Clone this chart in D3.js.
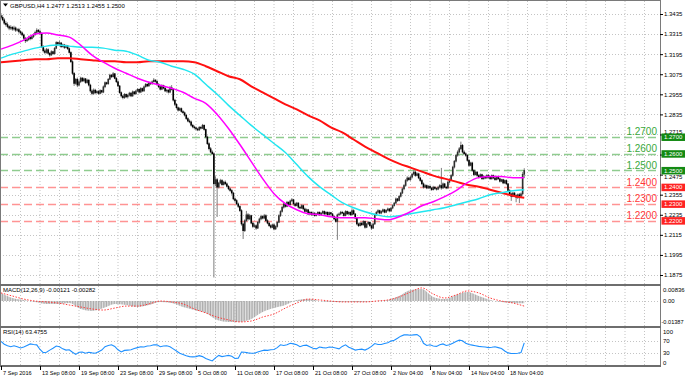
<!DOCTYPE html>
<html>
<head>
<meta charset="utf-8">
<script src="https://cdn.jsdelivr.net/npm/d3@7"></script>
<style>
  body { margin: 0; background: #fff; }
  svg { display: block; font-family: "Liberation Sans", Arial, sans-serif; }
</style>
</head>
<body>
<svg id="chart" width="685" height="377"></svg>
<script>
// GBPUSD H4 candles, one entry per bar (open = previous close)
const firstOpen = 1.3425;
const closes = [
  1.3415,1.3400,1.3380,1.3372,1.3360,1.3350, 1.3356,1.3345,1.3352,1.3338,1.3342,1.3330,
  1.3322,1.3310,1.3290,1.3275,1.3282,1.3295, 1.3288,1.3300,1.3312,1.3325,1.3338,1.3330,
  1.3320,1.3240,1.3215,1.3205,1.3222,1.3200, 1.3190,1.3210,1.3198,1.3230,1.3265,1.3255,
  1.3262,1.3240,1.3250,1.3235,1.3245,1.3228, 1.3205,1.3150,1.3080,1.3020,1.3045,1.3010,
  1.3030,1.3052,1.3035,1.3048,1.3025,1.3040, 1.3010,1.2975,1.2960,1.2980,1.2965,1.2972,
  1.2960,1.2978,1.2968,1.3000,1.3025,1.3018, 1.3045,1.3070,1.3060,1.3078,1.3050,1.3030,
  1.3005,1.2965,1.2945,1.2935,1.2955,1.2940, 1.2950,1.2962,1.2945,1.2970,1.2958,1.2975,
  1.2985,1.2968,1.2990,1.2975,1.3000,1.3015, 1.3005,1.3025,1.3018,1.3030,1.3040,1.3032,
  1.3015,1.3000,1.2985,1.3008,1.2992,1.2975, 1.2980,1.2968,1.2995,1.2985,1.2920,1.2895,
  1.2875,1.2860,1.2870,1.2852,1.2845,1.2830, 1.2810,1.2795,1.2790,1.2770,1.2760,1.2755,
  1.2748,1.2742,1.2758,1.2752,1.2770,1.2745, 1.2700,1.2660,1.2630,1.2610,1.2600,1.2420,
  1.2445,1.2400,1.2425,1.2440,1.2415,1.2430, 1.2420,1.2405,1.2390,1.2380,1.2365,1.2330,
  1.2320,1.2300,1.2285,1.2260,1.2180,1.2140, 1.2200,1.2235,1.2210,1.2230,1.2185,1.2165,
  1.2170,1.2155,1.2190,1.2210,1.2225,1.2215, 1.2230,1.2200,1.2185,1.2170,1.2160,1.2175,
  1.2150,1.2165,1.2190,1.2230,1.2255,1.2280, 1.2300,1.2285,1.2310,1.2295,1.2318,1.2325,
  1.2300,1.2290,1.2305,1.2280,1.2275,1.2290, 1.2270,1.2255,1.2265,1.2240,1.2250,1.2235,
  1.2245,1.2230,1.2240,1.2250,1.2235,1.2245, 1.2255,1.2240,1.2250,1.2235,1.2248,1.2240,
  1.2225,1.2210,1.2195,1.2235,1.2240,1.2250, 1.2245,1.2230,1.2255,1.2240,1.2250,1.2235,
  1.2260,1.2240,1.2215,1.2180,1.2170,1.2185, 1.2175,1.2195,1.2160,1.2180,1.2190,1.2170,
  1.2155,1.2180,1.2235,1.2250,1.2260,1.2245, 1.2255,1.2265,1.2250,1.2262,1.2270,1.2258,
  1.2275,1.2290,1.2305,1.2330,1.2320,1.2345, 1.2365,1.2390,1.2410,1.2440,1.2455,1.2445,
  1.2460,1.2478,1.2490,1.2470,1.2480,1.2455, 1.2440,1.2420,1.2400,1.2410,1.2395,1.2405,
  1.2395,1.2385,1.2400,1.2392,1.2388,1.2400, 1.2410,1.2395,1.2420,1.2400,1.2395,1.2430,
  1.2445,1.2470,1.2520,1.2555,1.2590,1.2610, 1.2630,1.2650,1.2610,1.2600,1.2590,1.2560,
  1.2530,1.2545,1.2500,1.2475,1.2490,1.2470, 1.2460,1.2475,1.2450,1.2465,1.2455,1.2470,
  1.2460,1.2450,1.2470,1.2455,1.2445,1.2460, 1.2450,1.2435,1.2445,1.2425,1.2440,1.2420,
  1.2380,1.2360,1.2345,1.2365,1.2350,1.2340, 1.2355,1.2345,1.2360,1.2477,1.2500
];
const highs = [
  1.3440,1.3428,1.3410,1.3392,1.3385,1.3368, 1.3368,1.3362,1.3365,1.3360,1.3350,1.3352,
  1.3338,1.3330,1.3318,1.3298,1.3290,1.3305, 1.3302,1.3310,1.3320,1.3335,1.3350,1.3345,
  1.3342,1.3325,1.3248,1.3228,1.3232,1.3230, 1.3208,1.3218,1.3215,1.3238,1.3272,1.3270,
  1.3275,1.3268,1.3258,1.3256,1.3252,1.3250, 1.3235,1.3212,1.3158,1.3088,1.3052,1.3055,
  1.3040,1.3060,1.3058,1.3055,1.3052,1.3048, 1.3045,1.3018,1.2985,1.2990,1.2988,1.2980,
  1.2980,1.2985,1.2982,1.3008,1.3032,1.3030, 1.3052,1.3078,1.3075,1.3088,1.3082,1.3058,
  1.3038,1.3010,1.2972,1.2952,1.2962,1.2960, 1.2958,1.2970,1.2968,1.2978,1.2975,1.2982,
  1.2992,1.2990,1.2998,1.2995,1.3008,1.3022, 1.3020,1.3032,1.3030,1.3038,1.3052,1.3045,
  1.3040,1.3022,1.3008,1.3015,1.3012,1.2998, 1.2988,1.2985,1.3005,1.3010,1.2990,1.2928,
  1.2902,1.2882,1.2878,1.2876,1.2860,1.2852, 1.2838,1.2818,1.2805,1.2798,1.2778,1.2768,
  1.2762,1.2755,1.2765,1.2765,1.2778,1.2775, 1.2750,1.2708,1.2668,1.2640,1.2620,1.2608,
  1.2465,1.2455,1.2432,1.2450,1.2448,1.2438, 1.2440,1.2428,1.2412,1.2398,1.2388,1.2372,
  1.2338,1.2328,1.2308,1.2292,1.2268,1.2188, 1.2208,1.2258,1.2245,1.2240,1.2235,1.2192,
  1.2180,1.2178,1.2198,1.2218,1.2235,1.2232, 1.2240,1.2238,1.2208,1.2192,1.2178,1.2182,
  1.2182,1.2172,1.2198,1.2238,1.2262,1.2288, 1.2308,1.2305,1.2318,1.2315,1.2325,1.2335,
  1.2330,1.2308,1.2312,1.2310,1.2288,1.2298, 1.2295,1.2278,1.2272,1.2270,1.2258,1.2255,
  1.2252,1.2250,1.2246,1.2256,1.2255,1.2252, 1.2262,1.2260,1.2256,1.2255,1.2254,1.2252,
  1.2246,1.2232,1.2215,1.2242,1.2248,1.2258, 1.2258,1.2252,1.2262,1.2260,1.2256,1.2255,
  1.2272,1.2268,1.2245,1.2220,1.2188,1.2192, 1.2192,1.2202,1.2200,1.2186,1.2198,1.2196,
  1.2178,1.2188,1.2242,1.2258,1.2268,1.2265, 1.2262,1.2272,1.2270,1.2268,1.2278,1.2275,
  1.2282,1.2298,1.2312,1.2338,1.2335,1.2352, 1.2372,1.2398,1.2418,1.2448,1.2465,1.2462,
  1.2468,1.2486,1.2505,1.2498,1.2488,1.2486, 1.2462,1.2448,1.2428,1.2418,1.2416,1.2412,
  1.2412,1.2402,1.2408,1.2406,1.2398,1.2408, 1.2418,1.2515,1.2428,1.2425,1.2408,1.2438,
  1.2452,1.2478,1.2528,1.2562,1.2598,1.2620, 1.2640,1.2672,1.2658,1.2620,1.2608,1.2598,
  1.2568,1.2552,1.2552,1.2508,1.2498,1.2496, 1.2478,1.2482,1.2480,1.2472,1.2470,1.2478,
  1.2478,1.2466,1.2476,1.2475,1.2460,1.2468, 1.2466,1.2456,1.2450,1.2450,1.2446,1.2446,
  1.2425,1.2388,1.2368,1.2372,1.2370,1.2358, 1.2362,1.2365,1.2368,1.2490,1.2513
];
const lows = [
  1.3405,1.3392,1.3370,1.3360,1.3350,1.3338, 1.3340,1.3335,1.3336,1.3328,1.3330,1.3318,
  1.3312,1.3302,1.3280,1.3262,1.3268,1.3275, 1.3278,1.3282,1.3292,1.3305,1.3318,1.3322,
  1.3310,1.3232,1.3205,1.3195,1.3198,1.3192, 1.3180,1.3185,1.3190,1.3192,1.3225,1.3245,
  1.3248,1.3232,1.3235,1.3226,1.3230,1.3220, 1.3198,1.3142,1.3070,1.3005,1.3012,1.2998,
  1.3002,1.3022,1.3028,1.3030,1.3018,1.3018, 1.3002,1.2965,1.2950,1.2952,1.2955,1.2958,
  1.2952,1.2955,1.2960,1.2962,1.2992,1.3010, 1.3012,1.3040,1.3052,1.3055,1.3045,1.3022,
  1.2998,1.2958,1.2935,1.2925,1.2928,1.2932, 1.2930,1.2942,1.2938,1.2940,1.2950,1.2952,
  1.2968,1.2960,1.2962,1.2968,1.2970,1.2995, 1.2998,1.3000,1.3010,1.3012,1.3025,1.3025,
  1.3008,1.2992,1.2978,1.2980,1.2985,1.2968, 1.2965,1.2960,1.2962,1.2978,1.2912,1.2885,
  1.2868,1.2852,1.2855,1.2845,1.2838,1.2822, 1.2802,1.2788,1.2782,1.2762,1.2752,1.2745,
  1.2740,1.2735,1.2736,1.2745,1.2748,1.2738, 1.2692,1.2652,1.2620,1.2602,1.2592,1.1860,
  1.2405,1.2222,1.2392,1.2418,1.2408,1.2410, 1.2412,1.2398,1.2382,1.2372,1.2355,1.2322,
  1.2310,1.2292,1.2275,1.2252,1.2170,1.2090, 1.2132,1.2192,1.2200,1.2205,1.2178,1.2155,
  1.2158,1.2145,1.2150,1.2182,1.2202,1.2208, 1.2208,1.2192,1.2178,1.2162,1.2152,1.2155,
  1.2142,1.2145,1.2158,1.2185,1.2222,1.2248, 1.2272,1.2278,1.2280,1.2288,1.2290,1.2310,
  1.2292,1.2282,1.2285,1.2272,1.2268,1.2270, 1.2262,1.2248,1.2250,1.2232,1.2235,1.2228,
  1.2228,1.2224,1.2225,1.2234,1.2228,1.2230, 1.2238,1.2234,1.2235,1.2228,1.2230,1.2232,
  1.2218,1.2202,1.2188,1.2085,1.2228,1.2232, 1.2238,1.2224,1.2226,1.2234,1.2235,1.2228,
  1.2230,1.2235,1.2208,1.2172,1.2162,1.2165, 1.2168,1.2170,1.2152,1.2155,1.2175,1.2162,
  1.2145,1.2150,1.2175,1.2228,1.2242,1.2238, 1.2238,1.2248,1.2244,1.2245,1.2255,1.2250,
  1.2252,1.2268,1.2284,1.2298,1.2312,1.2315, 1.2338,1.2358,1.2382,1.2402,1.2432,1.2438,
  1.2438,1.2452,1.2470,1.2462,1.2465,1.2448, 1.2432,1.2412,1.2392,1.2395,1.2388,1.2390,
  1.2388,1.2378,1.2380,1.2385,1.2380,1.2382, 1.2392,1.2385,1.2390,1.2395,1.2388,1.2390,
  1.2422,1.2438,1.2462,1.2512,1.2548,1.2582, 1.2602,1.2622,1.2602,1.2592,1.2582,1.2552,
  1.2522,1.2525,1.2492,1.2466,1.2470,1.2462, 1.2452,1.2455,1.2444,1.2445,1.2448,1.2450,
  1.2452,1.2444,1.2445,1.2448,1.2438,1.2440, 1.2444,1.2428,1.2430,1.2418,1.2420,1.2412,
  1.2372,1.2352,1.2318,1.2340,1.2345,1.2310, 1.2330,1.2305,1.2338,1.2352,1.2455
];

// moving averages, one reading every 7 bars
const MA_STEP = 7;
const maMagenta = [
  1.3225,1.3249,1.3279,1.3315,1.3321,1.3309,1.3297,1.3249,1.3189,1.3147,1.3111,1.3081,
  1.3051,1.3027,1.3009,1.2991,1.2967,1.2931,1.2901,1.2835,1.2751,1.2655,1.2553,1.2451,
  1.2361,1.2301,1.2265,1.2241,1.2235,1.2223,1.2217,1.2217,1.2217,1.2211,1.2205,1.2223,
  1.2253,1.2289,1.2313,1.2343,1.2379,1.2427,1.2457,1.2463,1.2463,1.2457,1.2457
];
const maCyan = [
  1.3171,1.3195,1.3213,1.3231,1.3243,1.3249,1.3243,1.3237,1.3237,1.3231,1.3219,1.3213,
  1.3189,1.3159,1.3147,1.3123,1.3105,1.3075,1.3015,1.2955,1.2889,1.2829,1.2769,1.2715,
  1.2661,1.2607,1.2535,1.2463,1.2403,1.2355,1.2307,1.2277,1.2253,1.2235,1.2223,1.2229,
  1.2241,1.2253,1.2265,1.2277,1.2295,1.2313,1.2331,1.2355,1.2367,1.2379,1.2385
];
const maRed = [
  1.3147,1.3153,1.3159,1.3165,1.3165,1.3171,1.3171,1.3165,1.3159,1.3153,1.3153,1.3147,
  1.3147,1.3153,1.3153,1.3153,1.3153,1.3147,1.3123,1.3093,1.3063,1.3045,1.3003,1.2967,
  1.2931,1.2895,1.2865,1.2829,1.2799,1.2757,1.2727,1.2685,1.2643,1.2607,1.2571,1.2541,
  1.2517,1.2493,1.2469,1.2451,1.2433,1.2415,1.2403,1.2385,1.2367,1.2349,1.2337
];

// MACD(12,26,9), one reading every 7 bars
const macdMain = [
  0.0045,0.0017,0.0006,-0.0005,-0.0016,-0.0016,-0.0011,-0.0044,-0.0055,-0.0039,-0.0016,-0.0022,
  -0.0033,-0.0022,-0.0005,-0.0011,-0.0033,-0.0050,-0.0066,-0.0105,-0.0116,-0.0116,-0.0100,-0.0061,
  -0.0039,-0.0022,0.0006,0.0011,0.0000,-0.0005,-0.0005,-0.0005,-0.0005,0.0000,0.0006,0.0028,
  0.0061,0.0067,0.0023,0.0011,0.0034,0.0050,0.0028,0.0006,-0.0005,-0.0011,-0.00121
];
const macdSignal = [
  0.0045,0.0028,0.0011,0.0000,-0.0005,-0.0011,-0.0022,-0.0033,-0.0044,-0.0050,-0.0039,-0.0028,
  -0.0028,-0.0016,0.0000,-0.0005,-0.0016,-0.0044,-0.0066,-0.0089,-0.0105,-0.0116,-0.0111,-0.0089,
  -0.0072,-0.0039,-0.0011,0.0011,0.0006,0.0000,-0.0005,-0.0005,-0.0005,0.0000,0.0006,0.0023,
  0.0050,0.0073,0.0039,0.0017,0.0034,0.0056,0.0045,0.0017,0.0000,-0.0011,-0.00282
];

// RSI(14), one reading every 2 bars
const RSI_STEP = 2;
const rsiValues = [
  68,59,54,51,54,51,47,50,55,60,58,57,42,32,33,40,46,53,51,44,40,41,33,26,33,34,30,33,31,30,
  35,40,51,55,57,52,41,34,39,40,41,45,48,51,50,53,54,57,57,51,53,54,51,44,37,30,26,22,19,18,
  19,22,19,13,9,5,15,23,19,21,23,20,13,14,34,33,31,30,30,34,37,40,39,41,42,48,57,55,57,62,
  60,57,51,55,56,51,46,44,50,48,47,50,49,47,44,52,57,49,45,40,42,43,40,45,52,61,58,58,61,64,
  69,72,78,85,89,89,88,89,90,83,62,55,57,53,52,57,60,55,57,62,68,72,70,62,58,56,54,52,51,50,
  48,49,51,48,45,37,31,29,29,30,32,63.4755
];

const priceTicks = [1.3435,1.3315,1.3195,1.3075,1.2955,1.2835,1.2715,1.2595,1.2475,1.2355,1.2235,1.2115,1.1995,1.1875];
const levelsUp = [1.2700, 1.2600, 1.2500];
const levelsDown = [1.2400, 1.2300, 1.2200];
const dateLabels = ["7 Sep 2016","13 Sep 08:00","19 Sep 08:00","23 Sep 08:00","29 Sep 08:00","5 Oct 08:00",
  "11 Oct 08:00","17 Oct 08:00","21 Oct 08:00","27 Oct 08:00","2 Nov 04:00","8 Nov 04:00","14 Nov 04:00","18 Nov 04:00"];
const DATE_STEP = 24;
const macdTicks = [0.00836, 0.00, -0.01387];
const rsiTicks = [100, 70, 30, 0];
const rsiLevels = [70, 30];
const title = "GBPUSD,H4  1.2477 1.2513 1.2455 1.2500";
const macdTitle = "MACD(12,26,9) -0.00121 -0.00282";
const rsiTitle = "RSI(14) 63.4755";

(function() {
  const GRID = "#c4c4c4";
  const FRAME = "#7a7a7a";
  const GREEN_LINE = "#8fcc8f", RED_LINE = "#ff9494";
  const GREEN_TEXT = "#3aa83a", RED_TEXT = "#ff3838";
  const GREEN_BOX = "#138a13", RED_BOX = "#ff2222";

  const svg = d3.select("#chart");
  const axisX = 660;
  const main = { top: 1, bottom: 284 };
  const macdP = { top: 286, bottom: 326 };
  const rsiP = { top: 328, bottom: 365 };

  const n = closes.length;
  const x = d3.scaleLinear().domain([0, n - 1]).range([1, 1 + (n - 1) * 1.625]);
  const y = d3.scaleLinear().domain([1.1875, 1.3435]).range([275, 14]);
  const yMacd = d3.scaleLinear().domain([-0.01387, 0.00836]).range([macdP.bottom, macdP.top]);
  const yRsi = d3.scaleLinear().domain([0, 100]).range([362.5, 331.5]);

  const defs = svg.append("defs");
  [["clipMain", main], ["clipMacd", macdP], ["clipRsi", rsiP]].forEach(([id, p]) => {
    defs.append("clipPath").attr("id", id).append("rect")
      .attr("x", 0).attr("y", p.top).attr("width", axisX).attr("height", p.bottom - p.top);
  });
  const pat = defs.append("pattern").attr("id", "hist")
    .attr("patternUnits", "userSpaceOnUse").attr("width", 1.625).attr("height", 4).attr("x", 0.5);
  pat.append("rect").attr("width", 1.1).attr("height", 4).attr("fill", "#a9a9a9");

  // vertical grid every 12 bars, across all panels
  const gridBars = d3.range(0, 420, 12).filter(b => x(b) < axisX - 2 && b > 0);
  [main, macdP, rsiP].forEach(p => {
    svg.append("g").selectAll("line").data(gridBars).join("line")
      .attr("x1", d => x(d)).attr("x2", d => x(d))
      .attr("y1", p.top).attr("y2", p.bottom)
      .attr("stroke", GRID).attr("stroke-dasharray", "1 2");
  });

  // horizontal grid in price panel
  svg.append("g").selectAll("line").data(priceTicks).join("line")
    .attr("x1", 0).attr("x2", axisX)
    .attr("y1", d => Math.round(y(d)) + 0.5).attr("y2", d => Math.round(y(d)) + 0.5)
    .attr("stroke", GRID).attr("stroke-dasharray", "1 2");

  // MACD zero and RSI levels
  svg.append("line").attr("x1", 0).attr("x2", axisX)
    .attr("y1", Math.round(yMacd(0)) + 0.5).attr("y2", Math.round(yMacd(0)) + 0.5)
    .attr("stroke", GRID).attr("stroke-dasharray", "1 2");
  svg.append("g").selectAll("line").data(rsiLevels).join("line")
    .attr("x1", 0).attr("x2", axisX)
    .attr("y1", d => Math.round(yRsi(d)) + 0.5).attr("y2", d => Math.round(yRsi(d)) + 0.5)
    .attr("stroke", GRID).attr("stroke-dasharray", "1 2");

  // support / resistance levels
  const lv = svg.append("g");
  lv.selectAll("line.up").data(levelsUp).join("line")
    .attr("x1", 0).attr("x2", axisX)
    .attr("y1", d => Math.round(y(d)) + 0.5).attr("y2", d => Math.round(y(d)) + 0.5)
    .attr("stroke", GREEN_LINE).attr("stroke-width", 1.3).attr("stroke-dasharray", "8 4");
  lv.selectAll("line.dn").data(levelsDown).join("line")
    .attr("x1", 0).attr("x2", axisX)
    .attr("y1", d => Math.round(y(d)) + 0.5).attr("y2", d => Math.round(y(d)) + 0.5)
    .attr("stroke", RED_LINE).attr("stroke-width", 1.3).attr("stroke-dasharray", "8 4");

  // candles
  const bars = closes.map((c, i) => ({ i, o: i ? closes[i - 1] : firstOpen, h: highs[i], l: lows[i], c }));
  const cg = svg.append("g").attr("clip-path", "url(#clipMain)");
  cg.selectAll("line").data(bars).join("line")
    .attr("x1", d => x(d.i)).attr("x2", d => x(d.i))
    .attr("y1", d => y(d.h)).attr("y2", d => y(d.l))
    .attr("stroke", "#7e7e7e").attr("stroke-width", 1);
  cg.selectAll("rect").data(bars).join("rect")
    .attr("x", d => x(d.i) - 0.8).attr("width", 1.6)
    .attr("y", d => y(Math.max(d.o, d.c)) - 0.3)
    .attr("height", d => Math.max(1.2, Math.abs(y(d.o) - y(d.c)) + 0.6))
    .attr("fill", d => d.c >= d.o ? "#2e2e2e" : "#000");

  // moving averages
  const maLine = d3.line().x((d, k) => x(k * MA_STEP)).y(d => y(d)).curve(d3.curveMonotoneX);
  [[maRed, "#ff1010", 2], [maCyan, "#22e6f0", 1.5], [maMagenta, "#ff00ff", 1.5]].forEach(([data, col, w]) => {
    cg.append("path").datum(data).attr("fill", "none").attr("stroke", col)
      .attr("stroke-width", w).attr("d", maLine);
  });

  // level labels
  const lt = svg.append("g").attr("font-size", 10).attr("text-anchor", "end");
  lt.selectAll("text.up").data(levelsUp).join("text")
    .attr("x", 657).attr("y", d => y(d) - 1.5).attr("fill", GREEN_TEXT)
    .text(d => d.toFixed(4));
  lt.selectAll("text.dn").data(levelsDown).join("text")
    .attr("x", 657).attr("y", d => y(d) - 1.5).attr("fill", RED_TEXT)
    .text(d => d.toFixed(4));

  // MACD
  const mg = svg.append("g").attr("clip-path", "url(#clipMacd)");
  mg.append("path").datum(macdMain)
    .attr("fill", "url(#hist)")
    .attr("d", d3.area().x((d, k) => x(k * MA_STEP)).y0(yMacd(0)).y1(d => yMacd(d)).curve(d3.curveMonotoneX));
  mg.append("path").datum(macdSignal)
    .attr("fill", "none").attr("stroke", "#ff3c3c").attr("stroke-width", 1)
    .attr("stroke-dasharray", "1.5 1.5")
    .attr("d", d3.line().x((d, k) => x(k * MA_STEP)).y(d => yMacd(d)).curve(d3.curveMonotoneX));

  // RSI
  const rg = svg.append("g").attr("clip-path", "url(#clipRsi)");
  rg.append("path").datum(rsiValues)
    .attr("fill", "none").attr("stroke", "#1e90ff").attr("stroke-width", 1.1)
    .attr("d", d3.line().x((d, k) => x(k * RSI_STEP)).y(d => yRsi(d)));

  // panel frames
  const fr = svg.append("g").attr("fill", "none").attr("stroke", FRAME);
  fr.append("line").attr("x1", 0.5).attr("x2", 0.5).attr("y1", 0).attr("y2", rsiP.bottom);
  fr.append("line").attr("x1", axisX + 0.5).attr("x2", axisX + 0.5).attr("y1", 0).attr("y2", rsiP.bottom + 1);
  fr.append("line").attr("x1", 0).attr("x2", axisX).attr("y1", 0.5).attr("y2", 0.5);
  [main.bottom + 1, macdP.bottom + 1, rsiP.bottom + 1].forEach(v => {
    fr.append("line").attr("x1", 0).attr("x2", axisX + 1).attr("y1", v).attr("y2", v)
      .attr("stroke-width", 2).attr("stroke", "#6e6e6e");
  });

  // right price axis; labels that fall on a level box are nudged just clear of it
  const allLevels = levelsUp.map(v => ({ v, c: GREEN_BOX })).concat(levelsDown.map(v => ({ v, c: RED_BOX })));
  const ra = svg.append("g").attr("transform", `translate(${axisX},0)`)
    .call(d3.axisRight(y).tickValues(priceTicks).tickSize(3).tickPadding(1).tickFormat(d3.format(".4f")));
  ra.select(".domain").remove();
  ra.selectAll("line").attr("stroke", "#000");
  ra.selectAll("text").attr("font-size", 6).attr("font-family", "Liberation Sans, Arial, sans-serif").attr("fill", "#000")
    .attr("dy", d => {
      const near = allLevels.find(l => Math.abs(y(l.v) - y(d)) < 5.5 && Math.abs(y(l.v) - y(d)) > 1.5);
      if (!near) return "0.32em";
      const shift = y(d) < y(near.v) ? -(y(d) - (y(near.v) - 3.5) + 2.3) : (y(near.v) + 4 - y(d) + 2.3);
      return (shift + 2) + "px";
    });

  // level price boxes on the axis
  const bx = svg.append("g");
  bx.selectAll("rect").data(allLevels).join("rect")
    .attr("x", axisX + 1.5).attr("y", d => y(d.v) - 3.5).attr("width", 26).attr("height", 7.5)
    .attr("fill", d => d.c);
  bx.selectAll("text").data(allLevels).join("text")
    .attr("x", axisX + 4).attr("y", d => y(d.v) + 2.2)
    .attr("font-size", 6).attr("fill", "#fff").text(d => d.v.toFixed(4));

  // MACD & RSI axis labels
  const sa = svg.append("g").attr("font-size", 6).attr("fill", "#000");
  sa.selectAll("text.m").data(macdTicks).join("text")
    .attr("x", d => d < 0 ? axisX + 1.5 : axisX + 3)
    .attr("font-size", d => d < 0 ? 5.6 : 6)
    .attr("y", d => Math.min(Math.max(yMacd(d), macdP.top + 4), macdP.bottom - 4) + 2)
    .text(d => d === 0 ? "0.00" : d.toFixed(5));
  sa.selectAll("text.r").data(rsiTicks).join("text")
    .attr("x", axisX + 3).attr("y", d => yRsi(d) + 2).text(d => d);

  // time axis
  const dateBars = dateLabels.map((d, i) => i * DATE_STEP);
  const ta = svg.append("g").attr("font-size", 5.6).attr("fill", "#000");
  ta.selectAll("line").data(dateBars).join("line")
    .attr("x1", d => Math.round(x(d)) + 0.5).attr("x2", d => Math.round(x(d)) + 0.5)
    .attr("y1", rsiP.bottom + 1).attr("y2", rsiP.bottom + 5).attr("stroke", "#000");
  ta.selectAll("text").data(dateBars).join("text")
    .attr("x", d => x(d) + 2).attr("y", 374.5).text((d, i) => dateLabels[i]);

  // titles
  svg.append("path").attr("d", "M3,3.5 L8,3.5 L5.5,6.5 Z").attr("fill", "#000");
  svg.append("text").attr("x", 10).attr("y", 8).attr("font-size", 6).attr("fill", "#000").text(title);
  svg.append("text").attr("x", 3).attr("y", 292).attr("font-size", 6).attr("fill", "#000").text(macdTitle);
  svg.append("text").attr("x", 3).attr("y", 334).attr("font-size", 6).attr("fill", "#000").text(rsiTitle);
})();
</script>
</body>
</html>
